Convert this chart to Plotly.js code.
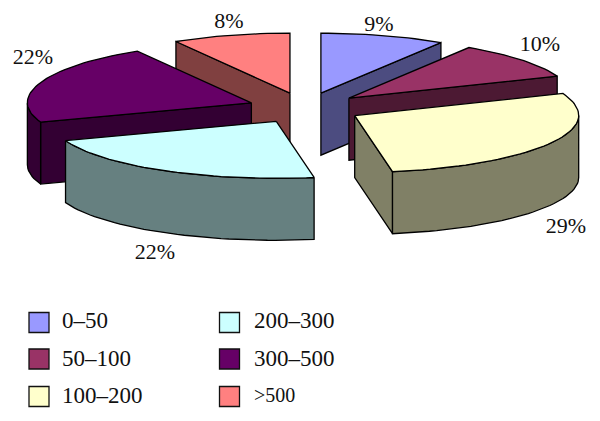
<!DOCTYPE html>
<html><head><meta charset="utf-8"><script src="https://cdn.plot.ly/plotly-3.0.1.min.js"></script>
<style>html,body{margin:0;padding:0;background:#fff}</style></head><body><div id="c" style="width:600px;height:421px"></div>
<script>
const categories=['0–50','50–100','100–200','200–300','300–500','>500'];
const shares=[9,10,28.3,22.2,22,8.5];
const percentLabels=['9%','10%','29%','22%','22%','8%'];
const topColors=['#9999FF','#993366','#FFFFCC','#CCFFFF','#660066','#FF8080'];
const wallColors=['#4C4C80','#4C1933','#808066','#668080','#330033','#804040'];
const paintOrder=[5,0,1,4,2,3];
const CX=305,CY=108,RX=224,RY_BACK=60,RY_FRONT=57,DEPTH=62,EXPLODE=57,YSCALE=0.27;
const labelPos=[[379,25],[540,45],[566,227],[155,253],[33,58],[229,22]];
const legendPos=[[39,322.5],[39,359],[39,396.5],[229.5,322.5],[229.5,359],[229.5,396.5]];
const legendText=[[62,322],[62,360],[62,397],[254,322],[254,360],[254,397]];

const rad=d=>d*Math.PI/180;
let total=shares.reduce((a,b)=>a+b,0),acc=0;
const slices=shares.map(v=>{const a=acc/total*360;acc+=v;const b=acc/total*360;const m=(a+b)/2;
  return {a,b,cx:CX+EXPLODE*Math.sin(rad(m)),cy:CY-EXPLODE*YSCALE*Math.cos(rad(m))};});
const pt=(s,d,dz=0)=>{const c=Math.cos(rad(d));return [s.cx+RX*Math.sin(rad(d)),s.cy-(c>0?RY_BACK:RY_FRONT)*c+dz];};
function poly(pts,color){return {type:'scatter',mode:'lines',x:pts.map(p=>p[0]),y:pts.map(p=>p[1]),fill:'toself',fillcolor:color,
  line:{color:'#000',width:1.3},hoverinfo:'skip',showlegend:false};}
function arc(s,a,b,dz=0){const n=Math.max(2,Math.ceil(Math.abs(b-a)/2));const o=[];for(let i=0;i<=n;i++)o.push(pt(s,a+(b-a)*i/n,dz));return o;}
const traces=[];
paintOrder.forEach(i=>{const s=slices[i];const apex=[s.cx,s.cy],apexB=[s.cx,s.cy+DEPTH];
  const sa=Math.sin(rad(s.a)),sb=Math.sin(rad(s.b));
  if(sa<-1e-6){const p=pt(s,s.a);traces.push(poly([apex,p,[p[0],p[1]+DEPTH],apexB,apex],wallColors[i]));}
  if(sb>1e-6){const p=pt(s,s.b);traces.push(poly([apex,p,[p[0],p[1]+DEPTH],apexB,apex],wallColors[i]));}
  const lo=Math.max(s.a,90),hi=Math.min(s.b,270);
  if(hi>lo){const t=arc(s,lo,hi),u=arc(s,hi,lo,DEPTH);traces.push(poly(t.concat(u,[t[0]]),wallColors[i]));}
  traces.push(poly([apex].concat(arc(s,s.a,s.b),[apex]),topColors[i]));
});
traces.push({type:'scatter',mode:'text',x:labelPos.map(p=>p[0]),y:labelPos.map(p=>p[1]),text:percentLabels,
  textfont:{family:'Liberation Serif',size:22,color:'#111'},textposition:'middle center',hoverinfo:'skip',showlegend:false});
traces.push({type:'scatter',mode:'markers',x:legendPos.map(p=>p[0]),y:legendPos.map(p=>p[1]),
  marker:{symbol:'square',size:20,color:topColors,line:{color:'#111',width:1.3}},hoverinfo:'skip',showlegend:false});
traces.push({type:'scatter',mode:'text',x:legendText.map(p=>p[0]),y:legendText.map(p=>p[1]),text:categories,
  textfont:{family:'Liberation Serif',size:categories.map(c=>c[0]==='>'?20:23),color:'#111'},textposition:'middle right',hoverinfo:'skip',showlegend:false});
Plotly.newPlot('c',traces,{width:600,height:421,margin:{l:0,r:0,t:0,b:0},paper_bgcolor:'#fff',plot_bgcolor:'#fff',showlegend:false,
  xaxis:{range:[0,600],visible:false,fixedrange:true},yaxis:{range:[421,0],visible:false,fixedrange:true}},{displayModeBar:false,staticPlot:true});
</script></body></html>
